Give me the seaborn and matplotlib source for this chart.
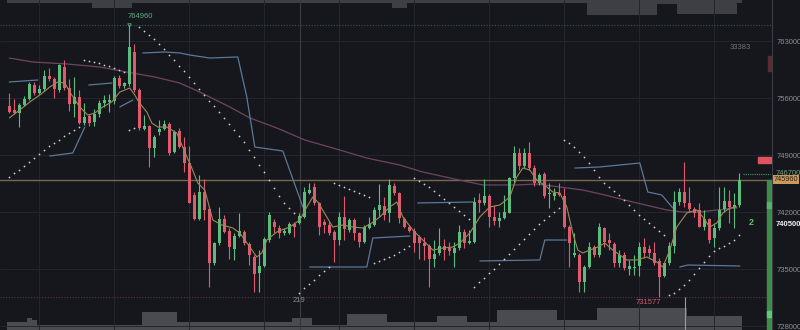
import matplotlib
matplotlib.use("Agg")
import matplotlib.pyplot as plt
from matplotlib.patches import Rectangle
import numpy as np
import pandas as pd
import seaborn as sns

# ---------------- data (prices in thousands) ----------------
open_k = [755.02, 754.52, 754.20, 755.14, 755.84, 757.60, 756.65, 757.06, 758.71, 758.30,
          756.98, 759.85, 757.19, 755.26, 756.08, 752.89, 753.79, 753.10, 754.03, 755.43,
          755.55, 755.67, 758.42, 757.47, 757.73, 761.69, 756.98, 752.15, 752.56, 749.82,
          751.83, 752.19, 752.81, 749.41, 751.99, 750.02, 747.98, 744.10, 741.10, 744.50,
          742.33, 735.70, 738.24, 741.10, 739.71, 737.42, 739.06, 739.59, 738.08, 736.44,
          734.47, 735.37, 738.56, 740.82, 740.00, 739.38, 739.46, 740.53, 740.69, 741.43,
          744.38, 745.12, 743.07, 740.82, 740.41, 739.59, 738.56, 741.43, 739.79, 741.02,
          739.38, 738.36, 740.00, 740.41, 742.25, 742.74, 741.84, 745.20, 744.30, 741.10,
          740.20, 739.71, 738.97, 738.24, 737.83, 736.19, 736.93, 737.83, 737.54, 736.93,
          737.54, 739.59, 738.16, 738.36, 743.48, 743.15, 743.97, 741.43, 740.94, 741.23,
          741.92, 746.14, 749.21, 747.65, 749.29, 747.37, 745.61, 746.67, 744.22, 743.97,
          744.38, 743.97, 740.12, 736.73, 736.73, 733.45, 735.29, 737.75, 736.73, 740.00,
          738.56, 738.08, 735.70, 736.73, 734.97, 735.09, 735.37, 737.75, 737.42, 736.93,
          736.03, 734.15, 735.78, 737.83, 743.28, 744.50, 743.15, 742.33, 742.25, 740.12,
          741.10, 738.77, 740.00, 742.33, 743.40, 742.66, 742.87]
high_k = [756.57, 755.88, 755.34, 756.24, 758.01, 758.01, 757.60, 759.44, 759.65, 758.63,
          760.18, 760.67, 758.30, 758.54, 756.98, 755.34, 754.03, 754.60, 755.75, 756.37,
          756.49, 758.71, 758.83, 758.01, 764.96, 762.63, 757.19, 753.91, 752.69, 751.46,
          753.30, 753.30, 753.10, 752.07, 752.28, 751.25, 750.11, 744.50, 746.55, 746.02,
          742.66, 738.36, 742.66, 741.64, 740.00, 739.38, 741.84, 739.79, 738.36, 736.73,
          737.34, 738.97, 742.04, 741.10, 740.41, 740.00, 740.82, 740.82, 741.84, 745.12,
          745.53, 745.53, 743.28, 741.10, 740.82, 739.79, 742.04, 743.97, 741.23, 741.23,
          739.59, 740.41, 741.43, 742.66, 745.45, 743.89, 746.02, 745.53, 744.50, 741.43,
          740.41, 740.00, 739.18, 738.97, 738.08, 738.56, 740.00, 738.65, 738.36, 738.36,
          740.41, 739.87, 739.79, 743.89, 744.30, 746.02, 744.22, 742.87, 742.04, 744.10,
          746.34, 750.11, 749.82, 749.82, 750.64, 747.78, 746.84, 746.96, 745.53, 744.91,
          745.53, 744.91, 740.41, 739.38, 736.93, 735.50, 738.36, 737.95, 740.61, 740.20,
          739.38, 738.36, 737.34, 737.13, 736.11, 736.73, 738.36, 738.77, 737.95, 738.36,
          736.32, 735.29, 738.36, 744.63, 744.91, 748.19, 745.04, 742.66, 743.15, 742.25,
          741.23, 740.61, 745.12, 745.12, 744.71, 744.30, 746.84]
low_k = [754.12, 754.03, 752.40, 755.02, 755.75, 756.37, 756.49, 756.90, 758.09, 755.96,
         756.78, 756.98, 754.44, 753.62, 752.81, 752.69, 752.56, 752.56, 753.70, 754.93,
         754.32, 755.26, 757.19, 757.19, 757.47, 756.78, 752.07, 752.07, 747.49, 748.72,
         751.46, 752.07, 749.00, 749.21, 749.82, 746.96, 743.07, 741.02, 741.02, 741.02,
         732.84, 735.50, 737.95, 739.38, 736.19, 736.11, 738.89, 737.95, 735.50, 732.23,
         732.23, 735.21, 738.36, 739.38, 738.77, 739.18, 739.30, 738.97, 740.53, 741.23,
         744.22, 742.87, 739.18, 739.38, 739.18, 735.91, 737.95, 738.56, 739.59, 738.56,
         737.75, 738.24, 739.87, 740.28, 741.43, 741.02, 740.82, 744.10, 740.61, 740.00,
         739.59, 737.13, 736.19, 736.11, 732.84, 735.21, 736.73, 736.11, 736.73, 735.29,
         737.34, 737.54, 738.08, 738.24, 742.04, 742.87, 740.20, 740.41, 740.20, 741.10,
         741.84, 745.53, 747.16, 747.37, 747.16, 745.20, 745.32, 743.69, 742.45, 743.48,
         743.97, 740.00, 735.29, 736.52, 732.23, 732.23, 735.09, 736.52, 736.52, 737.75,
         737.34, 735.29, 735.29, 734.88, 734.27, 734.27, 734.15, 736.32, 736.44, 735.50,
         731.577, 734.07, 735.50, 736.93, 742.87, 742.66, 742.04, 741.43, 740.12, 739.79,
         738.24, 737.75, 739.79, 742.04, 740.61, 740.00, 742.66]
close_k = [754.32, 754.20, 755.14, 755.84, 757.73, 756.65, 757.06, 758.71, 758.30, 757.06,
           760.06, 757.19, 755.26, 756.08, 752.89, 753.62, 752.97, 754.03, 755.34, 755.75,
           755.75, 758.42, 757.47, 757.80, 762.31, 756.98, 752.28, 752.56, 749.82, 751.25,
           752.19, 752.81, 749.21, 751.87, 750.02, 747.98, 743.15, 741.10, 744.50, 742.25,
           735.70, 738.24, 741.10, 739.59, 737.75, 739.06, 739.71, 738.24, 736.73, 734.39,
           735.37, 738.65, 741.64, 740.12, 739.46, 739.71, 740.53, 740.20, 741.51, 744.50,
           744.71, 743.07, 740.20, 740.41, 739.38, 738.56, 741.43, 739.87, 741.02, 739.38,
           738.36, 740.20, 740.53, 742.25, 742.87, 741.64, 745.32, 744.30, 741.23, 740.20,
           739.71, 738.24, 738.24, 737.83, 736.19, 736.85, 737.83, 737.34, 737.25, 737.54,
           739.59, 738.16, 738.48, 743.28, 743.15, 743.97, 741.43, 740.94, 741.23, 742.04,
           746.14, 749.21, 747.65, 749.29, 747.37, 745.61, 746.55, 743.97, 744.38, 744.30,
           744.10, 740.12, 738.16, 736.93, 733.45, 735.29, 737.75, 736.73, 740.12, 738.36,
           738.24, 735.70, 736.73, 735.09, 735.37, 735.29, 737.75, 736.93, 736.93, 735.70,
           734.07, 735.78, 737.83, 743.28, 744.50, 743.07, 742.33, 741.92, 740.20, 741.10,
           738.56, 740.00, 742.25, 743.40, 742.66, 742.87, 745.96]

# parabolic SAR dots (one per candle)
sar_k = [746.30, 746.79, 747.22, 747.65, 748.14, 748.63, 749.12, 749.61, 750.11, 750.47,
         750.90, 751.33, 751.70, 752.07, 752.44,
         760.67, 760.54, 760.42, 760.24, 760.05, 759.87, 759.69, 759.44, 759.19,
         752.07, 752.32,
         764.72, 764.23, 763.74, 763.25, 762.63, 762.02, 761.28, 760.67, 759.93, 759.32,
         758.58, 757.84, 757.11, 756.37, 755.63, 755.02, 754.28, 753.55, 752.81, 752.07,
         751.33, 750.60, 749.61, 748.76, 747.77, 746.91, 745.93, 744.95, 743.97, 743.11,
         742.49, 741.88,
         732.05, 732.67, 733.16, 733.65, 734.27, 734.76, 735.25,
         745.56, 745.32, 745.07, 744.83, 744.58, 744.34, 744.09, 743.84,
         735.74, 735.99, 736.23, 736.48, 736.72, 737.09, 737.46, 737.83,
         746.18, 745.81, 745.44, 745.07, 744.58, 744.09, 743.60, 743.11, 742.62, 742.12,
         741.63, 741.14,
         732.79, 733.41, 733.90, 734.51, 735.00, 735.62, 736.23, 736.84, 737.46, 738.07,
         738.69, 739.30, 739.91, 740.53, 741.02, 741.51, 742.00, 742.49,
         750.84, 750.47, 749.98, 749.37, 748.76, 748.02, 747.16, 746.30, 745.56, 745.07,
         744.58, 744.09, 743.47, 742.86, 742.25, 741.63, 741.14, 740.65, 740.16, 739.67,
         739.18,
         731.81, 732.05, 732.54, 733.04, 733.65, 734.39, 735.12, 735.86, 736.60, 737.21,
         737.58, 737.83, 738.19, 738.56, 739.18]

# short moving average (vertices)
ma_short_x = [0, 2.1, 4.1, 6.1, 8.1, 9.7, 11.1, 12.1, 14.1, 15.7, 17.1, 18.7, 20.5, 22.1,
              24.1, 25.1, 25.9, 27.5, 28.5, 29.7, 31.5, 33.5, 35.1, 36.5, 37.7, 39.1, 40.7,
              42.5, 44.7, 46.1, 48.1, 49.5, 50.5, 51.5, 53.5, 56.1, 58.1, 59.5, 60.7, 61.7,
              63.5, 64.7, 66.7, 68.7, 70.7, 72.5, 74.1, 76.1, 77.5, 78.7, 80.7, 82.7, 84.7,
              86.7, 88.7, 90.1, 92.1, 94.1, 96.1, 98.1, 100.1, 101.5, 102.7, 104.1, 105.5,
              107.5, 108.7, 110.1, 111.5, 112.7, 113.7, 114.7, 116.1, 117.7, 119.1, 120.7,
              123.5, 125.5, 127.5, 129.5, 130.7, 132.1, 133.5, 135.5, 137.5, 138.7, 140.1,
              141.5, 142.7, 144.1, 145.5]
ma_short_k = [753.55, 754.53, 755.51, 756.37, 757.35, 757.97, 757.84, 756.73, 754.90, 753.91,
              754.16, 754.90, 755.51, 756.73, 757.23, 756.37, 755.51, 754.28, 752.93, 752.44,
              752.44, 751.70, 749.37, 747.40, 745.56, 744.70, 741.02, 740.41, 740.04, 739.42,
              737.70, 736.48, 736.97, 738.56, 739.55, 740.16, 741.02, 742.62, 743.84, 743.23,
              741.39, 740.16, 740.41, 740.16, 740.04, 740.65, 741.39, 742.62, 743.23, 741.39,
              739.79, 738.56, 737.33, 737.58, 737.70, 738.19, 739.42, 741.39, 742.62, 742.86,
              743.84, 746.30, 747.40, 747.16, 745.93, 745.07, 744.46, 744.34, 742.62, 739.42,
              737.33, 736.97, 737.33, 737.70, 738.19, 737.33, 736.11, 736.11, 736.48, 735.86,
              735.25, 737.33, 740.16, 741.88, 742.25, 741.39, 740.16, 740.65, 741.88, 742.49,
              742.62]

# long moving average
ma_long_x = [0, 4.7, 11.5, 18.1, 23.5, 29.1, 34.1, 38.1, 44.1, 48.1, 53.5, 59.1, 64.7, 71.5,
             78.1, 82.7, 89.1, 94.7, 101.5, 105.5, 110.1, 114.7, 119.1, 124.7, 131.5, 134.7,
             138.1, 141.5, 145.5]
ma_long_k = [760.91, 760.42, 760.18, 759.81, 759.19, 758.58, 757.84, 756.73, 754.90, 753.55,
             752.32, 750.84, 749.86, 748.63, 747.77, 746.91, 746.05, 745.32, 745.32, 745.44,
             745.07, 744.70, 744.09, 743.23, 742.25, 742.00, 742.00, 742.25, 742.49]

# trend band segments
band_seg = [1, 1, 2, 2, 2, 3, 3, 4, 4,
            5, 5, 5, 5, 5, 5, 5, 5, 5, 5, 5,
            6, 6, 6, 6, 7, 7, 8, 8, 8, 8,
            9, 9, 9, 9, 9, 9, 10, 10, 10]
band_x = [0, 5.7, 8.1, 12.7, 15.1, 15.9, 20.5, 22.1, 24.7,
          26.7, 31.1, 34.1, 36.1, 40.1, 45.7, 47.5, 49.1, 54.7, 57.5, 58.7,
          60.1, 71.5, 72.7, 80.1, 81.7, 92.7, 94.1, 106.1, 107.1, 111.5,
          113.1, 118.1, 126.1, 127.7, 130.5, 132.7, 134.1, 135.7, 146.1]
band_k = [757.97, 758.21, 748.88, 749.25, 752.44, 757.60, 757.84, 754.90, 755.75,
          761.53, 761.65, 761.53, 761.28, 760.91, 761.04, 756.12, 749.98, 749.49, 744.70, 742.62,
          735.25, 735.25, 738.81, 739.05, 743.11, 743.23, 735.99, 736.11, 738.56, 738.56,
          747.40, 747.53, 748.02, 744.46, 744.09, 742.49, 735.25, 735.49, 735.37]

# volume (bottom panel) and the hanging bars along the top edge
vol_bottom = [8, 8, 8, 8, 12, 10] + [5] * 21 + [18] * 7 + [8] * 23 + [12] * 4 + [5] * 7 + \
             [16] * 8 + [8] * 10 + [14] * 6 + [8] * 6 + [20] * 12 + [10] * 8 + [22] * 18 + [14] * 11
vol_top = [3] * 17 + [8] * 8 + [3] * 52 + [8] * 3 + [3] * 36 + [15] * 14 + [4] * 4 + [14] * 12 + [3]

y_ticks = [728000, 735000, 742000, 749000, 756000, 763000]
last_price = 745960
mark_price = 746700
bid_price = 740500
high_price = 764960
low_price = 731577
cross_idx = 58
cross_label = "219"
info_label = "33383"
count_label = "2"

# ---------------- style ----------------
BG = "#15171d"
GRID = "#23262d"
UP = "#5bbd7d"
DOWN = "#e05a6d"
TXT = "#8b8e95"

sns.set_theme(style="dark", rc={"axes.facecolor": BG, "figure.facecolor": BG})
plt.rcParams["font.family"] = ["Liberation Sans", "DejaVu Sans"]

n = len(open_k)
idx = np.arange(n)
o = np.array(open_k) * 1000
h = np.array(high_k) * 1000
l = np.array(low_k) * 1000
c = np.array(close_k) * 1000

fig = plt.figure(figsize=(8, 3.3), dpi=100, facecolor=BG)
ax = fig.add_axes([0, 0, 772 / 800, 1])
ax.set_facecolor(BG)
XL = (-1.86, 152.54)
YL = (727511, 768035)

# volume panels (drawn first, behind)
axv = fig.add_axes([0, 0, 772 / 800, 34 / 330])
axv.patch.set_alpha(0)
sns.barplot(x=idx, y=vol_bottom, ax=axv, color="#4a4b50", width=1.0, native_scale=True,
            linewidth=0, saturation=1)
axv.set_xlim(XL)
axv.set_ylim(0, 34)
axv.axis("off")

axt = fig.add_axes([0, 1 - 20 / 330, 772 / 800, 20 / 330])
axt.patch.set_alpha(0)
sns.barplot(x=idx, y=vol_top, ax=axt, color="#3e3f44", width=1.0, native_scale=True,
            linewidth=0, saturation=1)
axt.set_xlim(XL)
axt.set_ylim(20, 0)
axt.axis("off")

ax.set_zorder(axv.get_zorder() + 1)
ax.patch.set_alpha(0)
fig.patch.set_facecolor(BG)

# grid
for t in y_ticks:
    ax.axhline(t, color=GRID, lw=0.7, zorder=0)
for gx in range(6, 150, 15):
    ax.axvline(gx, color=GRID, lw=0.7, zorder=0)
ax.axvline(cross_idx + 0.14, color="#363942", lw=0.9, zorder=0)

# high / low dotted markers
ax.axhline(high_price, color="#3b5a50", lw=0.8, ls=(0, (1, 1.5)), zorder=1)
ax.axhline(low_price, color="#5e3845", lw=0.8, ls=(0, (1, 1.5)), zorder=1)
# last price line
ax.axhline(last_price, color="#7b684c", lw=1.0, zorder=1)

# long MA
sns.lineplot(x=ma_long_x, y=np.array(ma_long_k) * 1000, ax=ax, color="#6e4560", lw=0.9,
             estimator=None, sort=False, zorder=2)

# trend bands
band_df = pd.DataFrame({"seg": band_seg, "x": band_x, "y": np.array(band_k) * 1000})
sns.lineplot(data=band_df, x="x", y="y", units="seg", estimator=None, sort=False, ax=ax,
             color="#5d7896", lw=0.9, zorder=2)

# candles
cols = [UP if cc >= oo else DOWN for oo, cc in zip(o, c)]
ax.vlines(idx, l, h, colors=cols, lw=0.8, zorder=3)
body_lo = np.minimum(o, c)
body_h = np.maximum(np.abs(c - o), 110)
ax.bar(idx, body_h, bottom=body_lo, width=0.66, color=cols, linewidth=0, zorder=4)

# short MA
sns.lineplot(x=ma_short_x, y=np.array(ma_short_k) * 1000, ax=ax, color="#9c8a5c", lw=0.8,
             estimator=None, sort=False, zorder=5)

# SAR dots
sns.scatterplot(x=idx, y=np.array(sar_k) * 1000, ax=ax, s=1.6, color="#cfd0d4",
                linewidth=0, zorder=6)

ax.set_xlim(XL)
ax.set_ylim(YL)

# annotations
ax.plot([24], [high_price], marker="v", ms=2.5, mfc="none", mec="#5fae7c", mew=0.6, zorder=7)
ax.text(23.7, 765950, f"{high_price}", color="#5fae7c", fontsize=5.5, ha="left", va="center")
ax.text(130.3, 730830, f"{low_price}", color="#d45d6e", fontsize=5.5, ha="right", va="center")
ax.text(58.0, 731130, cross_label, color="#8a8c92", fontsize=5.5, ha="center", va="center")
ax.text(146.1, 762260, info_label, color="#707278", fontsize=5.5, ha="center", va="center")
ax.text(148.3, 740770, count_label, color="#56c46a", fontsize=6.5, ha="center", va="center",
        fontweight="bold")
ax.vlines(135.14, YL[0], low_price, color="#9a9ca2", lw=0.8, zorder=7)

# right-side widgets
ax.hlines(mark_price, 146.7, 152.1, color="#4f9a64", lw=0.8, ls=(0, (1, 1)), zorder=7)
ax.add_patch(Rectangle((149.74, 748020), 2.6, 740, color="#e0525f", zorder=8))
ax.add_patch(Rectangle((151.6, YL[0]), 0.9, last_price - YL[0], color="#3f8b4c", zorder=8))
ax.add_patch(Rectangle((151.6, 742500), 0.9, 700, color="#55b565", zorder=9))
ax.add_patch(Rectangle((151.6, 729100), 0.9, 700, color="#62c873", zorder=9))
ax.add_patch(Rectangle((151.8, 759300), 0.5, 1900, color="#5a2a35", zorder=8))

# axis
for s in ["top", "left", "bottom"]:
    ax.spines[s].set_visible(False)
ax.spines["right"].set_color("#3a3d45")
ax.spines["right"].set_linewidth(0.8)
ax.set_xticks([])
ax.yaxis.tick_right()
ax.set_yticks(y_ticks)
ax.set_yticklabels([str(t) for t in y_ticks])
ax.tick_params(axis="y", length=0, pad=3, labelsize=5.5, labelcolor=TXT)
ax.set_xlabel("")
ax.set_ylabel("")

ytr = ax.get_yaxis_transform()
ax.text(1.0052, mark_price, f"{mark_price}", transform=ytr, color="#6f9f7f", fontsize=5.5,
        ha="left", va="center", clip_on=False)
ax.text(1.0025, last_price, f"{last_price}", transform=ytr, color="#2a1e10", fontsize=5.3,
        ha="left", va="center", clip_on=False,
        bbox=dict(boxstyle="square,pad=0.12", fc="#c99a5c", ec="none"))
ax.text(1.0052, bid_price, f"{bid_price}", transform=ytr, color="#f2f2f2", fontsize=5.5,
        ha="left", va="center", fontweight="bold", clip_on=False)

fig.savefig("out.png", dpi=100, facecolor=BG)
